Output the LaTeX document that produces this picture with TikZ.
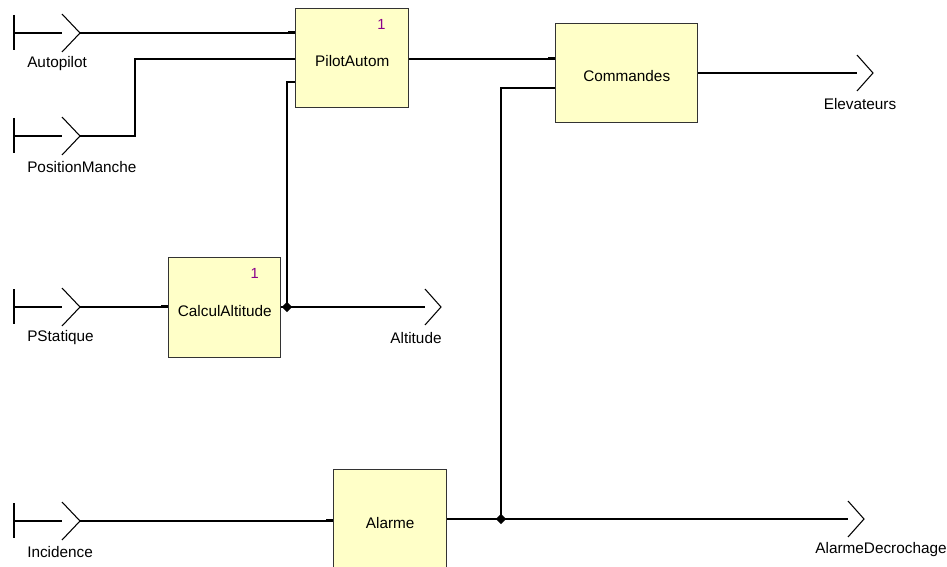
\documentclass[tikz,border=0pt]{standalone}
\usepackage{fontspec}
\setmainfont{Liberation Sans}
\usetikzlibrary{shapes.geometric}
\definecolor{blockfill}{HTML}{FFFFC8}
\definecolor{instnum}{HTML}{8B008B}
\begin{document}
\begin{tikzpicture}[x=0.75pt,y=-0.75pt,
    block/.style={draw=black!80,fill=blockfill,line width=1.1pt,anchor=north west,
      inner sep=0pt,text height=12.5pt,text depth=0pt,font=\fontsize{11.5}{13}\selectfont},
    wire/.style={line width=1.1pt},
    stub/.style={line width=2.2pt},
    port/.style={line width=0.8pt},
    portlabel/.style={font=\fontsize{11.5}{13}\selectfont,inner sep=0pt},
    num/.style={text=instnum,font=\fontsize{11}{13}\selectfont,inner sep=0pt},
    junction/.style={diamond,fill,inner sep=0pt,minimum size=8pt}]
    \clip (0,0) rectangle (947,567);

    % blocks
    \node[block,minimum width=84.75pt,minimum height=74.25pt] (pilot) at (295,8) {PilotAutom};
    \node[block,minimum width=106.5pt,minimum height=74.25pt] (cmd) at (555,23) {Commandes};
    \node[block,minimum width=84pt,minimum height=75pt] (calc) at (168,257) {CalculAltitude};
    \node[block,minimum width=84.75pt,minimum height=75pt] (alarm) at (333,469) {Alarme};
    \node[num] (pilotNum) at ([xshift=-21pt,yshift=-12.5pt]pilot.north east) {1};
    \node[num] (calcNum) at ([xshift=-20pt,yshift=-12pt]calc.north east) {1};

    % input ports
    \foreach \name/\y in {Autopilot/33,PositionManche/136,PStatique/307,Incidence/521}{
        \coordinate (in-\name) at (80,\y);
        \draw[port] (14,\y-18) -- (14,\y+17);
        \draw[port] (14,\y) -- (62,\y);
        \draw[port] (62,\y-19) -- (in-\name) -- (62,\y+19);
        \node[portlabel,anchor=west] (lbl-\name) at (27,\y+31) {\name};
    }

    % output ports
    \foreach \name/\x/\y/\lx in {Elevateurs/857/73/860,Altitude/425/307/416,AlarmeDecrochage/848/519/881}{
        \coordinate (out-\name) at (\x,\y);
        \draw[port] (\x,\y-18) -- (\x+16,\y) -- (\x,\y+18);
        \node[portlabel] (lbl-\name) at (\lx,\y+31) {\name};
    }

    % wire end points
    \coordinate (pilotIn2) at (pilot.west |- 0,59);
    \coordinate (pilotIn3) at (pilot.west |- 0,82);
    \coordinate (cmdIn2) at (cmd.west |- 0,88);
    \coordinate (jAlt) at (287,307);
    \coordinate (jAlarm) at (501,519);

    % wires
    \draw[wire] (in-Autopilot) -- (in-Autopilot -| pilot.west);
    \draw[wire] (in-PositionManche) -- (135,136) |- (pilotIn2);
    \draw[wire] (jAlt) |- (pilotIn3);
    \draw[wire] (pilot.east |- pilotIn2) -- (pilotIn2 -| cmd.west);
    \draw[wire] (jAlarm) |- (cmdIn2);
    \draw[wire] (cmd.east |- out-Elevateurs) -- (out-Elevateurs);
    \draw[wire] (in-PStatique) -- (in-PStatique -| calc.west);
    \draw[wire] (calc.east |- out-Altitude) -- (out-Altitude);
    \draw[wire] (in-Incidence) -- (in-Incidence -| alarm.west);
    \draw[wire] (alarm.east |- out-AlarmeDecrochage) -- (out-AlarmeDecrochage);

    % first-input stubs
    \draw[stub] ([yshift=0.75pt]in-Autopilot -| pilot.west) -- ++(-7,0);
    \draw[stub] ([yshift=0.75pt]pilotIn2 -| cmd.west) -- ++(-7,0);
    \draw[stub] ([yshift=0.75pt]in-PStatique -| calc.west) -- ++(-7,0);
    \draw[stub] ([yshift=0.75pt]in-Incidence -| alarm.west) -- ++(-7,0);

    % junctions
    \node[junction] (dotAlt) at (jAlt) {};
    \node[junction] (dotAlarm) at (jAlarm) {};
\end{tikzpicture}
\end{document}
